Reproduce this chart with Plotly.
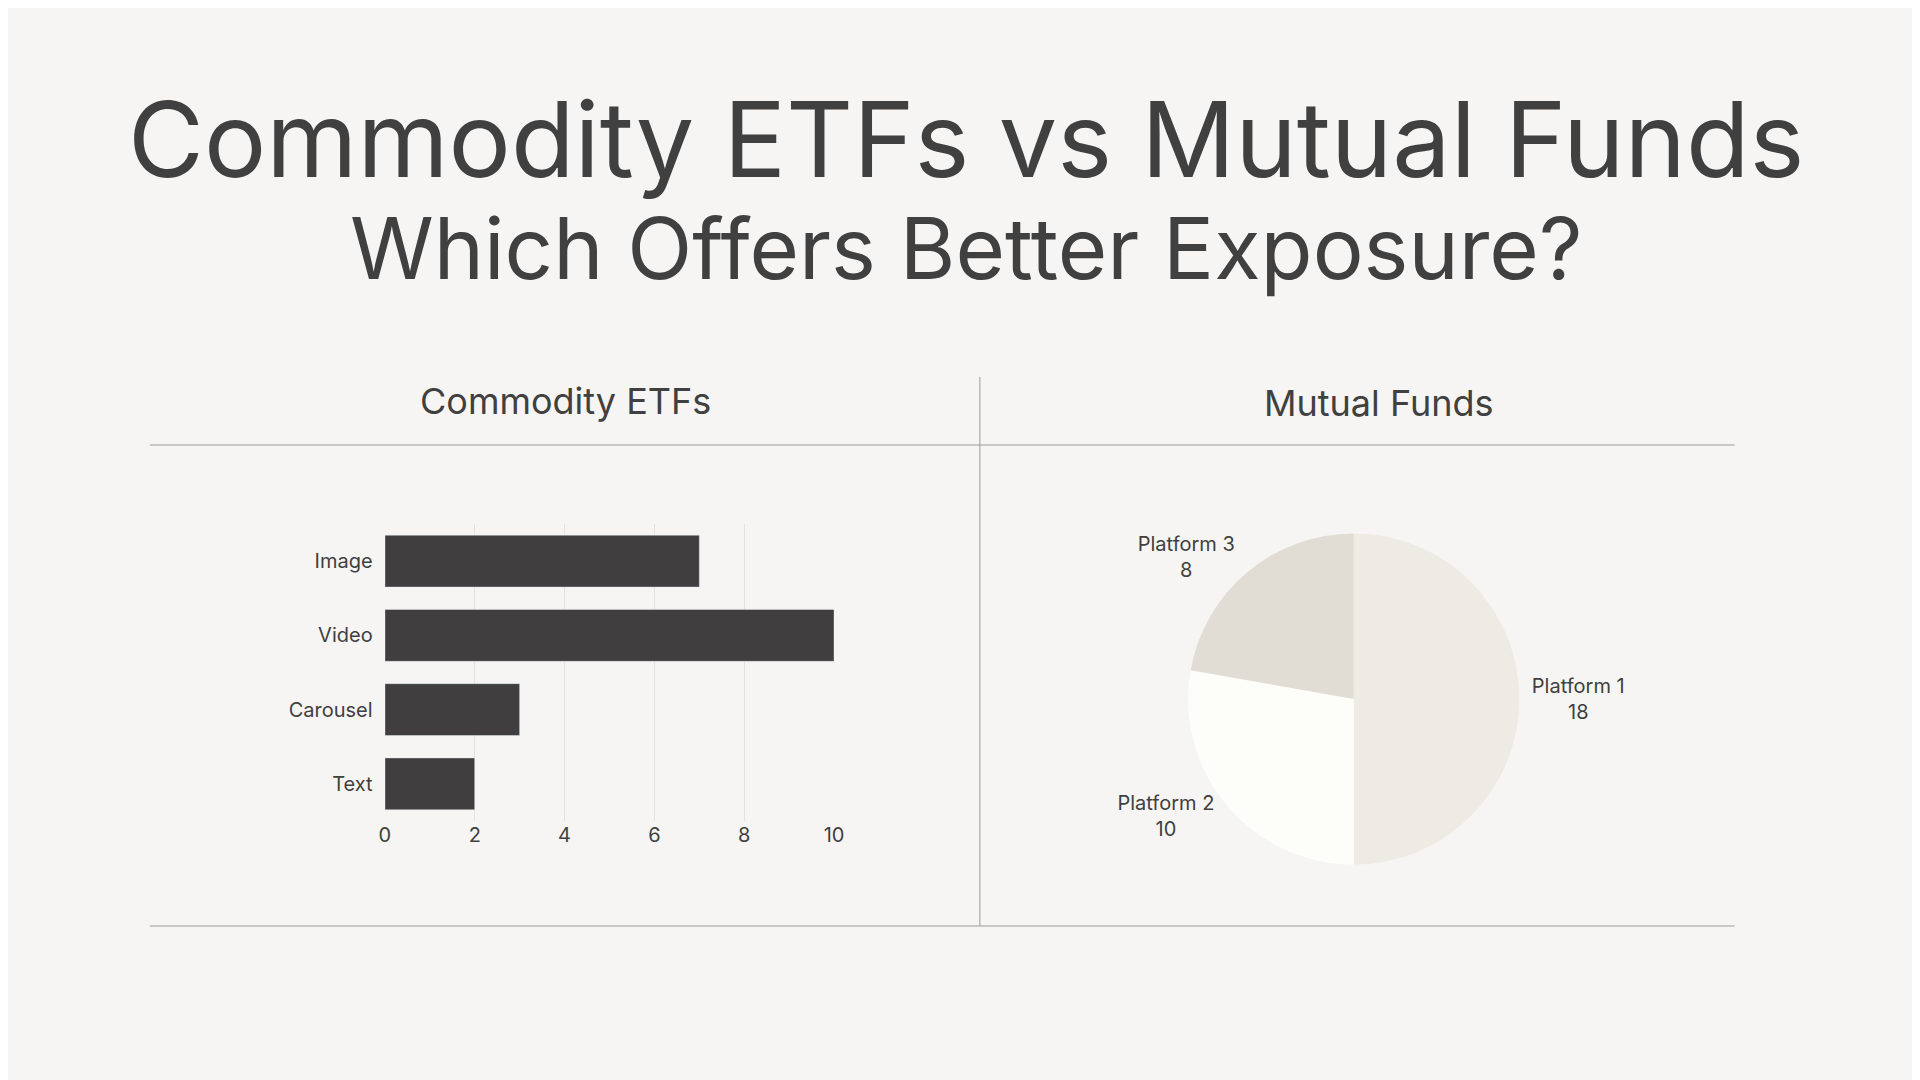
import plotly.graph_objects as go

bar_cats = ["Image", "Video", "Carousel", "Text"]
bar_vals = [7, 10, 3, 2]
pie_labels = ["Platform 1", "Platform 2", "Platform 3"]
pie_vals = [18, 10, 8]
pie_colors = ["#eeebe4", "#fdfdf9", "#e1ddd5"]
ticks = [0, 2, 4, 6, 8, 10]

W, H = 1920, 1080
def px(x): return x / W
def py(y): return 1 - y / H

fig = go.Figure()
fig.add_trace(go.Bar(y=bar_cats, x=bar_vals, orientation="h", marker_color="#403e3e",
                     width=0.7, xaxis="x", yaxis="y", showlegend=False))
fig.add_trace(go.Pie(labels=pie_labels, values=pie_vals, marker=dict(colors=pie_colors),
                     sort=False, direction="clockwise", rotation=0,
                     texttemplate="%{label}<br>%{value}", textposition="outside",
                     textfont=dict(size=20, color="#404040"),
                     domain=dict(x=[px(1184), px(1518)], y=[py(858), py(524)]),
                     showlegend=False, automargin=False))

shapes = [
    dict(type="line", xref="paper", yref="paper", x0=px(137), x1=px(1735), y0=py(437), y1=py(437), line=dict(color="#9a9a9a", width=1)),
    dict(type="line", xref="paper", yref="paper", x0=px(137), x1=px(1735), y0=py(918), y1=py(918), line=dict(color="#9a9a9a", width=1)),
    dict(type="line", xref="paper", yref="paper", x0=px(974), x1=px(974), y0=py(369), y1=py(918), line=dict(color="#9a9a9a", width=1)),
]
ann = [
    dict(text="Commodity ETFs vs Mutual Funds", x=0.5, y=py(131), font=dict(size=104, color="#404040")),
    dict(text="Which Offers Better Exposure?", x=0.5, y=py(240), font=dict(size=85, color="#404040")),
    dict(text="Commodity ETFs", x=px(556), y=py(393), font=dict(size=36, color="#404040")),
    dict(text="Mutual Funds", x=px(1376), y=py(395), font=dict(size=36, color="#404040")),
]
for a in ann:
    a.update(xref="paper", yref="paper", showarrow=False, xanchor="center", yanchor="middle")

fig.update_layout(
    width=W, height=H, margin=dict(l=0, r=0, t=0, b=0),
    paper_bgcolor="#f6f5f3", plot_bgcolor="#f6f5f3",
    font=dict(family="Inter", color="#404040"),
    shapes=shapes, annotations=ann,
    xaxis=dict(domain=[px(374), px(827)], range=[0, 10], tickvals=ticks, showgrid=True,
               gridcolor="#e4e2de", zeroline=False, showline=False, tickfont=dict(size=20, color="#404040")),
    yaxis=dict(domain=[py(813), py(516)], autorange="reversed", showgrid=False,
               ticksuffix="  ", tickfont=dict(size=20, color="#404040")),
    bargap=0.3,
)
fig.write_html("out.html")
